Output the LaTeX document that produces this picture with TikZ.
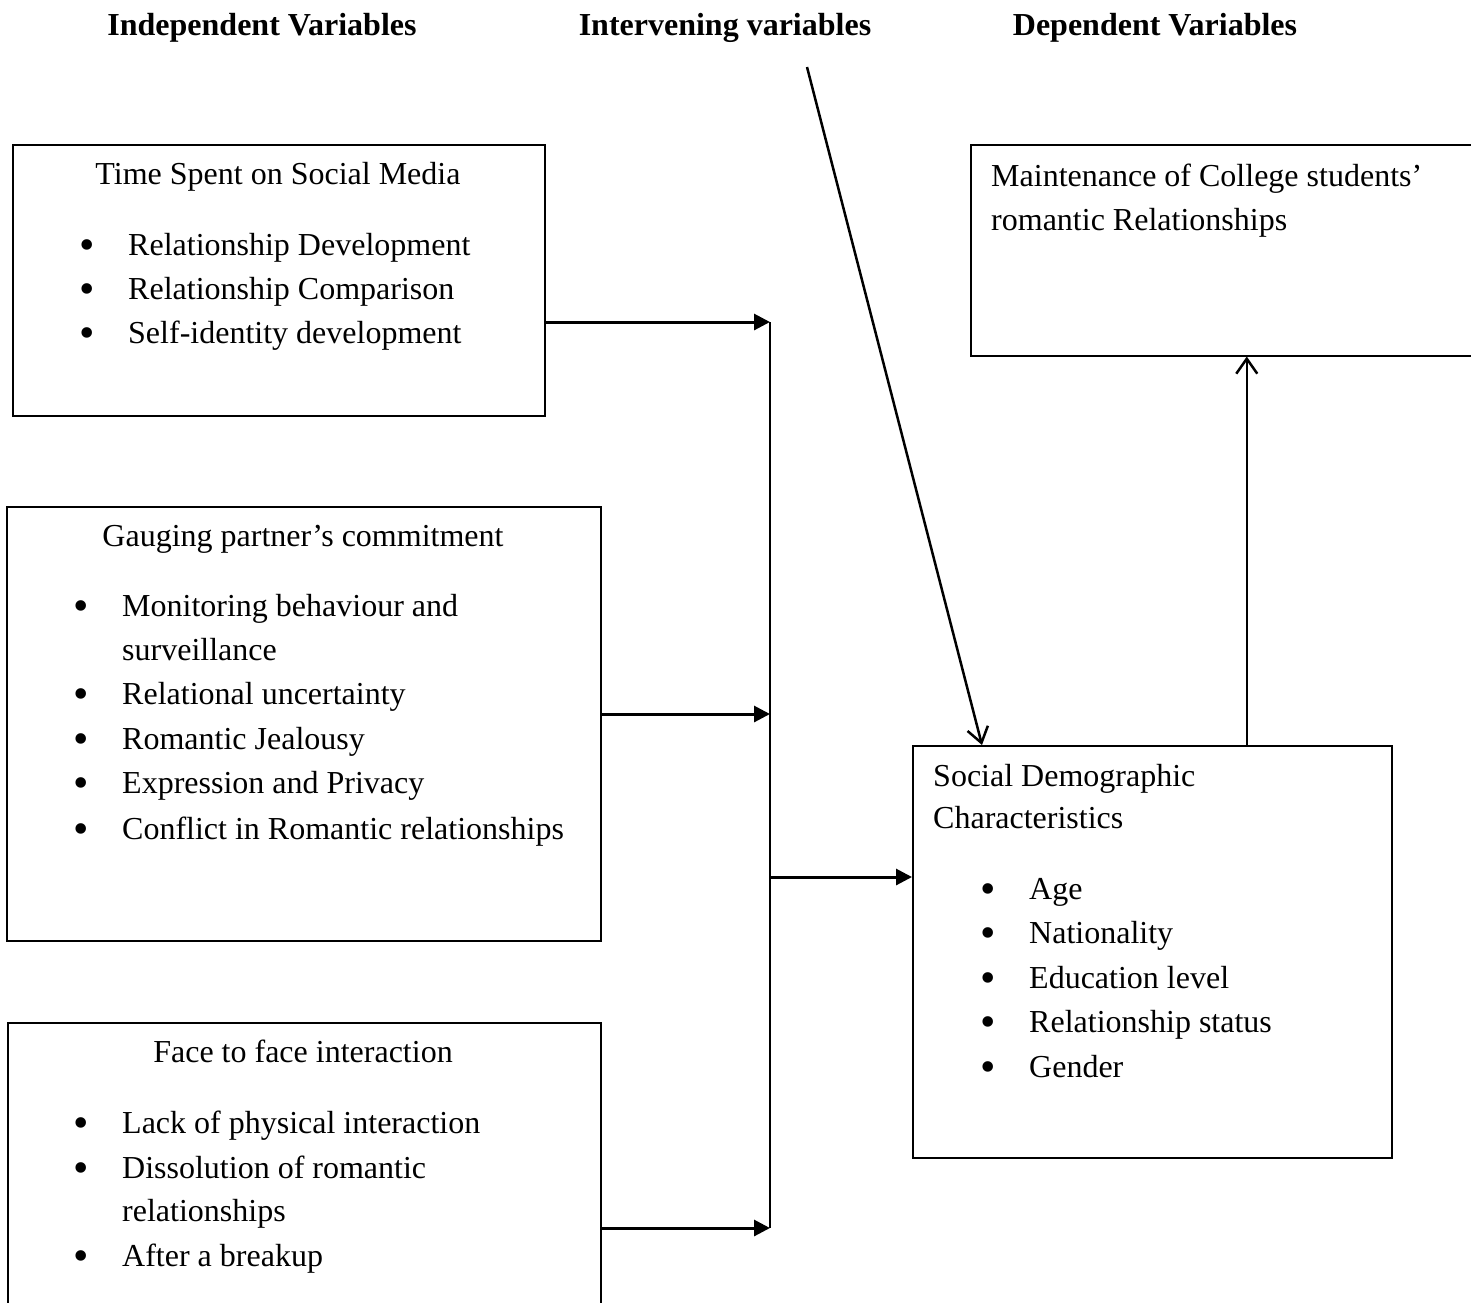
\documentclass[tikz,border=0pt]{standalone}
\usepackage{fontspec}
\setmainfont{Liberation Serif}
\usetikzlibrary{arrows.meta,positioning,calc}

\begin{document}
\begin{tikzpicture}[x=1pt, y=-1pt,
    box/.style={draw, line width=1.5pt, inner sep=0pt, anchor=north west},
    txt/.style={inner sep=0pt, anchor=base west, font=\fontsize{32}{44}\selectfont},
    ttl/.style={txt, anchor=base},
    hdr/.style={ttl, font=\fontsize{32}{44}\selectfont\bfseries},
    bul/.style={txt, anchor=base, yshift=-4pt, font=\fontsize{44}{50}\selectfont},
    feed/.style={-{Triangle[length=16pt, width=16pt]}, line width=3pt},
    link/.style={-{Straight Barb[length=15pt, width=21pt]}, line width=2.5pt}]
    \useasboundingbox (0,0) rectangle (1471,1302);
    \clip (0,0) rectangle (1471,1302);
    % column headers
    \node[hdr] (hind) at (262,35) {Independent Variables};
    \node[hdr] (hint) at (725,35) {Intervening variables};
    \node[hdr] (hdep) at (1155,35) {Dependent Variables};
    % boxes
    \node[box, minimum width=532pt, minimum height=271pt] (tsm) at (12,144) {};
    \node[box, minimum width=594pt, minimum height=434pt] (gpc) at (6,506) {};
    \node[box, minimum width=593pt, minimum height=330pt] (fti) at (7,1022) {};
    \node[box, minimum width=552pt, minimum height=211pt] (dep) at (970,144) {};
    \node[box, minimum width=479pt, minimum height=412pt] (sdc) at (912,745) {};
    % time spent on social media
    \node[ttl] (tsm-t) at (278,184) {Time Spent on Social Media};
    \foreach \y/\txt [count=\i] in {255/Relationship Development,
        299/Relationship Comparison, 343/Self-identity development} {
        \node[bul] (tsm-b\i) at (87,\y) {\textbullet};
        \node[txt] (tsm-i\i) at (128,\y) {\txt};
    }
    % gauging partner's commitment
    \node[ttl] (gpc-t) at (303,546) {Gauging partner’s commitment};
    \foreach \y/\txt [count=\i] in {616/Monitoring behaviour and,
        704/Relational uncertainty, 749/Romantic Jealousy,
        793/Expression and Privacy, 839/Conflict in Romantic relationships} {
        \node[bul] (gpc-b\i) at (81,\y) {\textbullet};
        \node[txt] (gpc-i\i) at (122,\y) {\txt};
    }
    \node[txt] (gpc-i1b) at (122,660) {surveillance};
    % face to face interaction
    \node[ttl] (fti-t) at (303,1062) {Face to face interaction};
    \foreach \y/\txt [count=\i] in {1133/Lack of physical interaction,
        1178/Dissolution of romantic, 1266/After a breakup} {
        \node[bul] (fti-b\i) at (81,\y) {\textbullet};
        \node[txt] (fti-i\i) at (122,\y) {\txt};
    }
    \node[txt] (fti-i2b) at (122,1221) {relationships};
    % dependent variable
    \node[txt] (dep-t1) at (991,186) {Maintenance of College students’};
    \node[txt] (dep-t2) at (991,230) {romantic Relationships};
    % social demographic characteristics
    \node[txt] (sdc-t1) at (933,786) {Social Demographic};
    \node[txt] (sdc-t2) at (933,828) {Characteristics};
    \foreach \y/\txt [count=\i] in {899/Age, 943/Nationality,
        988/Education level, 1032/Relationship status, 1077/Gender} {
        \node[bul] (sdc-b\i) at (988,\y) {\textbullet};
        \node[txt] (sdc-i\i) at (1029,\y) {\txt};
    }
    % connectors
    \coordinate (busA) at (770,322);
    \coordinate (busB) at (770,714);
    \coordinate (busC) at (770,1228);
    \coordinate (busD) at (770,877);
    \coordinate (ivsrc) at (807,67);
    \draw[feed] (tsm.east |- busA) -- (busA);
    \draw[feed] (gpc.east |- busB) -- (busB);
    \draw[feed] (fti.east |- busC) -- (busC);
    \draw[line width=2.5pt] (busA) -- (busC);
    \draw[feed] (busD) -- (sdc.west |- busD);
    \draw[link] (ivsrc) -- ([xshift=70pt]sdc.north west);
    \draw[link] (sdc.north -| dep.south) -- (dep.south);
\end{tikzpicture}
\end{document}
